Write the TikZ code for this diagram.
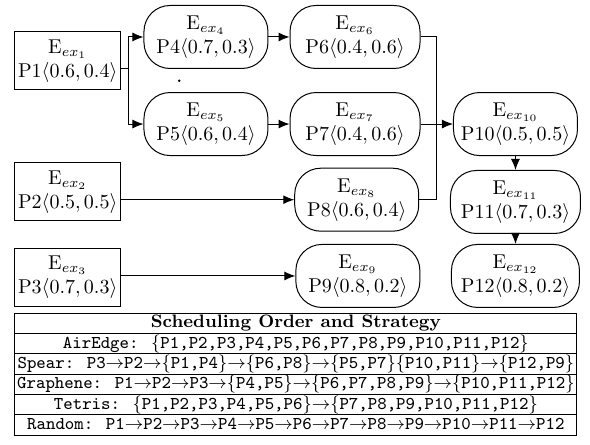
\documentclass[tikz,border=0pt]{standalone}
\usepackage{tikz}
\usetikzlibrary{shapes, arrows.meta, positioning, calc}
\usepackage{amsmath, amssymb}
\newcommand{\ra}{{\rightarrow}}

\begin{document}
\begin{tikzpicture}[
  line width=0.5pt,
  srcnode/.style={draw, rectangle, minimum width=53pt, minimum height=29pt, inner sep=1pt, align=center},
  tnode/.style={draw, rectangle, rounded corners=13pt, minimum width=62pt, minimum height=31.5pt, inner sep=1pt, align=center},
  arr/.style={-{Latex[length=5.5pt, width=4.5pt]}},
  tabrow/.style={draw, rectangle, minimum width=281pt, minimum height=10.17pt, inner sep=0pt, outer sep=0pt, text height=7pt, text depth=2.5pt, font=\small}
]
  \useasboundingbox (0, 0) rectangle (10.37, -7.82);

  % Task graph
  \node[srcnode] (P1) at (1.19, -1.07) {E$_{ex_1}$\\P1$\langle 0.6, 0.4\rangle$};
  \node[srcnode] (P2) at (1.19, -3.37) {E$_{ex_2}$\\P2$\langle 0.5, 0.5\rangle$};
  \node[srcnode] (P3) at (1.19, -4.87) {E$_{ex_3}$\\P3$\langle 0.7, 0.3\rangle$};
  \node[tnode] (P4) at (3.62, -0.65) {E$_{ex_4}$\\P4$\langle 0.7, 0.3\rangle$};
  \node[tnode] (P5) at (3.62, -2.18) {E$_{ex_5}$\\P5$\langle 0.6, 0.4\rangle$};
  \node[tnode, minimum width=65pt] (P6) at (6.24, -0.65) {E$_{ex_6}$\\P6$\langle 0.4, 0.6\rangle$};
  \node[tnode, minimum width=65pt] (P7) at (6.24, -2.18) {E$_{ex_7}$\\P7$\langle 0.4, 0.6\rangle$};
  \node[tnode] (P8) at (6.27, -3.51) {E$_{ex_8}$\\P8$\langle 0.6, 0.4\rangle$};
  \node[tnode] (P9) at (6.29, -4.85) {E$_{ex_9}$\\P9$\langle 0.8, 0.2\rangle$};
  \node[tnode] (P10) at (9.06, -2.18) {E$_{ex_{10}}$\\P10$\langle 0.5, 0.5\rangle$};
  \node[tnode, minimum width=65pt] (P11) at (9.06, -3.55) {E$_{ex_{11}}$\\P11$\langle 0.7, 0.3\rangle$};
  \node[tnode, minimum width=64pt] (P12) at (9.06, -4.85) {E$_{ex_{12}}$\\P12$\langle 0.8, 0.2\rangle$};
  \node[circle, fill, inner sep=0.5pt] (speck) at (3.15, -1.42) {};

  \coordinate (split) at (2.25, -1.21);
  \coordinate (merge) at (7.68, -2.18);

  \draw (P1.east |- split) -- (split);
  \draw[arr] (split) |- (P4.west);
  \draw[arr] (split) |- (P5.west);
  \draw[arr] (P4) -- (P6);
  \draw[arr] (P5) -- (P7);
  \draw[arr] (P2.east |- P8) -- (P8);
  \draw[arr] (P3.east |- P9) -- (P9);
  \draw (P6.east) -| (merge);
  \draw (P8.east) -| (merge);
  \draw[arr] (P7) -- (P10);
  \draw[arr] (P10) -- (P11);
  \draw[arr] (P11) -- (P12);

  % Strategy table
  \node[tabrow] (head) at (5.20, -5.68) {\textbf{Scheduling Order and Strategy}};
  \node[tabrow, below=0pt of head] (airedge) {\texttt{AirEdge: $\{$P1,P2,P3,P4,P5,P6,P7,P8,P9,P10,P11,P12$\}$}};
  \node[tabrow, below=0pt of airedge] (spear) {\texttt{Spear: P3$\ra$P2$\ra\{$P1,P4$\}\ra\{$P6,P8$\}\ra\{$P5,P7$\}\{$P10,P11$\}\ra\{$P12,P9$\}$}};
  \node[tabrow, below=0pt of spear] (graphene) {\texttt{Graphene: P1$\ra$P2$\ra$P3$\ra\{$P4,P5$\}\ra\{$P6,P7,P8,P9$\}\ra\{$P10,P11,P12$\}$}};
  \node[tabrow, below=0pt of graphene] (tetris) {\texttt{Tetris: $\{$P1,P2,P3,P4,P5,P6$\}\ra\{$P7,P8,P9,P10,P11,P12$\}$}};
  \node[tabrow, below=0pt of tetris] (random) {\texttt{Random: P1$\ra$P2$\ra$P3$\ra$P4$\ra$P5$\ra$P6$\ra$P7$\ra$P8$\ra$P9$\ra$P10$\ra$P11$\ra$P12}};
\end{tikzpicture}
\end{document}
